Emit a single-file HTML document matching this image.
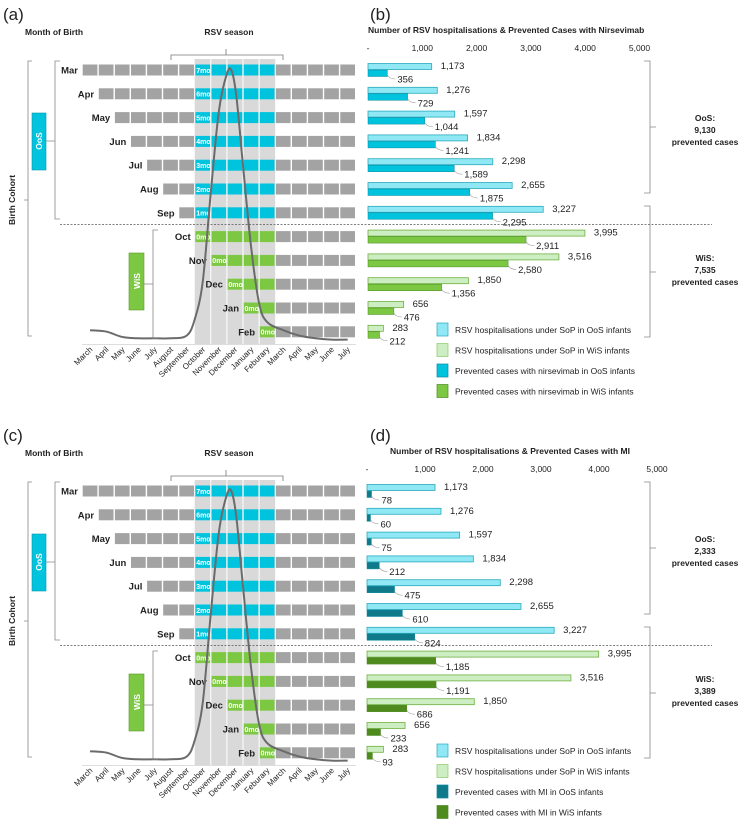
<!DOCTYPE html>
<html><head><meta charset="utf-8"><style>
body{margin:0;background:#fff;width:746px;height:825px;overflow:hidden}
svg{display:block;font-family:"Liberation Sans",Arial,sans-serif}
</style></head><body>
<svg id="fig" width="746" height="825" viewBox="0 0 746 825" xmlns="http://www.w3.org/2000/svg"></svg>
<script>
const birthMonths = ["Mar","Apr","May","Jun","Jul","Aug","Sep","Oct","Nov","Dec","Jan","Feb"];
const axisMonths = ["March","April","May","June","July","August","September","October","November","December","January","Feburary","March","April","May","June","July"];
const sopCases = [1173,1276,1597,1834,2298,2655,3227,3995,3516,1850,656,283];
const nirsPrevented = [356,729,1044,1241,1589,1875,2295,2911,2580,1356,476,212];
const miPrevented = [78,60,75,212,475,610,824,1185,1191,686,233,93];
const ageLabels = ["7mo","6mo","5mo","4mo","3mo","2mo","1mo","0mo","0mo","0mo","0mo","0mo"];
const tickValues = [0,1000,2000,3000,4000,5000];
const tickLabels = ["-","1,000","2,000","3,000","4,000","5,000"];
const curvePos = [0.5,1.5,2.5,3.5,4.5,5.5,6.5,7.0,7.5,8.0,8.5,9.0,9.3,9.6,10.0,10.5,11.0,11.5,12.5,13.5,14.5,15.5,16.5];
const curveVal = [4,3.5,1.5,1,1,1,2,8,22,55,85,99,100,90,65,35,14,7,4,2,1,0.5,0.5];

const NS="http://www.w3.org/2000/svg";
const svg=document.getElementById('fig');
function mk(tag,attrs,parent){const e=document.createElementNS(NS,tag);for(const k in attrs)e.setAttribute(k,attrs[k]);(parent||svg).appendChild(e);return e;}
function txt(s,attrs,parent){const e=mk('text',attrs,parent);e.textContent=s;return e;}

const CX0=82, CW=16.1, ROW0=70, RS=23.8;
const cx=i=>CX0+CW*i;
const rowY=r=>ROW0+RS*r;

function panel(oy, letters, darkVals, darkOoS, darkWiS, scale, titleText, legTexts, oosTotal, wisTotal, titleX, x0){
  const g=mk('g',{});
  
  
  const gL=mk('g',{transform:`translate(0,${oy})`},g);
  let t=txt('('+letters[0]+')',{x:3,y:20,'font-size':17,fill:'#222'},gL);
  
  
  t=txt('Month of Birth',{x:25,y:35,'font-size':8.5,'font-weight':'bold',fill:'#222'},gL);
  
  
  t=txt('RSV season',{x:229,y:35,'font-size':8.5,'font-weight':'bold','text-anchor':'middle',fill:'#222'},gL);
  
  
  mk('path',{d:'M171,60 V55 H226 V49 M226,55 H283 V60',fill:'none',stroke:'#777','stroke-width':0.8},gL);
  const bg=mk('rect',{x:cx(7),y:59,width:CW*5,height:285,fill:'#d9d9d9'},gL);
  
  
  for(let k=1;k<5;k++) mk('line',{x1:cx(7+k),x2:cx(7+k),y1:59,y2:344,stroke:'#fff','stroke-width':1},gL);
  birthMonths.forEach((m,r)=>{
    const y=rowY(r)-5.5;
    const start=r;
    for(let c=start;c<17;c++){
      const inSeason=c>=7&&c<=11;
      let fill='#a3a3a3';
      if(inSeason) fill = r<7 ? '#00c3de' : '#7dc843';
      const cell=mk('rect',{x:cx(c)+0.7,y:y,width:CW-1.4,height:11,fill:fill},gL);
      
      
    }
    const lab=txt(m,{x:cx(start)-4,y:rowY(r)+3.5,'font-size':9.5,'font-weight':'bold','text-anchor':'end',fill:'#222'},gL);
    
    
    const ac=Math.max(7,start);
    const al=txt(ageLabels[r],{x:cx(ac)+1.5,y:rowY(r)+2.8,'font-size':7,'font-weight':'bold',fill:'#fff'},gL);
    
    
  });
  mk('line',{x1:82,x2:356,y1:344.5,y2:344.5,stroke:'#ddd','stroke-width':1},gL);
  axisMonths.forEach((m,i)=>{
    const x=cx(i)+CW/2+3, y=350;
    const a=txt(m,{x:x,y:y,'font-size':8,'text-anchor':'end',fill:'#222',transform:`rotate(-45 ${x} ${y})`},gL);
    
    
  });
  const pts=curvePos.map((p,i)=>[cx(p),341-curveVal[i]*2.7]);
  let d='M'+pts[0][0]+','+pts[0][1];
  for(let i=1;i<pts.length;i++){
    const p0=pts[Math.max(0,i-2)],p1=pts[i-1],p2=pts[i],p3=pts[Math.min(pts.length-1,i+1)];
    const c1=[p1[0]+(p2[0]-p0[0])/6,p1[1]+(p2[1]-p0[1])/6],c2=[p2[0]-(p3[0]-p1[0])/6,p2[1]-(p3[1]-p1[1])/6];
    d+=` C${c1[0]},${c1[1]} ${c2[0]},${c2[1]} ${p2[0]},${p2[1]}`;
  }
  const cur=mk('path',{d:d,fill:'none',stroke:'#6b6b6b','stroke-width':2},gL);
  
  
  t=txt('Birth Cohort',{x:15,y:200,'font-size':8.5,'font-weight':'bold','text-anchor':'middle',fill:'#222',transform:'rotate(-90 15 200)'},gL);
  
  
  mk('path',{d:'M32,61 H28 V336 H32 M28,200 H24',fill:'none',stroke:'#888','stroke-width':0.8},gL);
  mk('path',{d:'M60,61 H55 V219 H60 M55,141 H46',fill:'none',stroke:'#888','stroke-width':0.8},gL);
  mk('path',{d:'M158,230 H153 V338 H158 M153,284 H144',fill:'none',stroke:'#888','stroke-width':0.8},gL);
  let b=mk('rect',{x:32,y:113,width:14,height:57,fill:'#00c3de',stroke:'#0a9ab0','stroke-width':0.6},gL);
  
  
  txt('OoS',{x:42,y:141,'font-size':8.5,'font-weight':'bold','text-anchor':'middle',fill:'#fff',transform:'rotate(-90 42 141)'},gL);
  b=mk('rect',{x:129,y:253,width:15,height:57,fill:'#7dc843',stroke:'#5a9a2a','stroke-width':0.6},gL);
  
  
  txt('WiS',{x:140,y:281,'font-size':8.5,'font-weight':'bold','text-anchor':'middle',fill:'#fff',transform:'rotate(-90 140 281)'},gL);
  mk('line',{x1:60,x2:712,y1:224.5,y2:224.5,stroke:'#555','stroke-width':0.8,'stroke-dasharray':'2,1.5'},gL);

  t=txt('('+letters[1]+')',{x:370,y:20,'font-size':17,fill:'#222'},gL);
  
  
  t=txt(titleText,{x:titleX,y:33,'font-size':8.5,'font-weight':'bold',fill:'#222'},gL);
  
  
  const X0=x0;
  tickValues.forEach((v,i)=>{
    const tk=txt(tickLabels[i],{x:X0+v*scale,y:51,'font-size':8.5,'text-anchor':'middle',fill:'#222'},gL);
    
    
  });
  birthMonths.forEach((m,r)=>{
    const yc=rowY(r), oos=r<7;
    const w1=sopCases[r]*scale, w2=darkVals[r]*scale;
    let br=mk('rect',{x:X0,y:yc-6.5,width:w1,height:6,fill:oos?'#8fe8f4':'#cdeec2',stroke:oos?'#2aaabf':'#6fb040','stroke-width':0.8},gL);
    
    
    br=mk('rect',{x:X0,y:yc,width:w2,height:6.5,fill:oos?darkOoS:darkWiS,stroke:oos?'#0a8aa0':'#4c8a22','stroke-width':0.5},gL);
    
    
    const l1=txt(sopCases[r].toLocaleString('en-US'),{x:X0+w1+9,y:yc-1,'font-size':9.5,fill:'#222'},gL);
    
    
    const ex=X0+w2;
    mk('path',{d:`M${ex},${yc+5} Q${ex+2},${yc+9} ${ex+8},${yc+9}`,fill:'none',stroke:'#999','stroke-width':0.6},gL);
    const l2=txt(darkVals[r].toLocaleString('en-US'),{x:ex+10,y:yc+12.5,'font-size':9.5,fill:'#222'},gL);
    
    
  });
  mk('path',{d:'M644,61 H650 V193 H644 M650,127 H656',fill:'none',stroke:'#888','stroke-width':0.8},gL);
  mk('path',{d:'M644,206 H650 V337 H644 M650,272 H656',fill:'none',stroke:'#888','stroke-width':0.8},gL);
  [['OoS:',121],[oosTotal,133],['prevented cases',145]].forEach(([s,y])=>{
    const e=txt(s,{x:705,y:y,'font-size':8.5,'font-weight':'bold','text-anchor':'middle',fill:'#222'},gL);
    
    
  });
  [['WiS:',261],[wisTotal,273],['prevented cases',285]].forEach(([s,y])=>{
    const e=txt(s,{x:705,y:y,'font-size':8.5,'font-weight':'bold','text-anchor':'middle',fill:'#222'},gL);
    
    
  });
  const lf=[['#8fe8f4','#2aaabf'],['#cdeec2','#8cc86a'],[darkOoS,'#0a8aa0'],[darkWiS,'#4c8a22']];
  legTexts.forEach((s,i)=>{
    const y=323+i*20.5;
    const r=mk('rect',{x:437,y:y,width:11,height:13,fill:lf[i][0],stroke:lf[i][1],'stroke-width':0.7},gL);
    
    
    const e=txt(s,{x:455,y:y+10,'font-size':8.5,fill:'#222'},gL);
    
    
  });
}
panel(0,['a','b'],nirsPrevented,'#00c3de','#7dc843',0.0543,'Number of RSV hospitalisations & Prevented Cases with Nirsevimab',
 ['RSV hospitalisations under SoP in OoS infants','RSV hospitalisations under SoP in WiS infants','Prevented cases with nirsevimab in OoS infants','Prevented cases with nirsevimab in WiS infants'],'9,130','7,535',368,368);
panel(421,['c','d'],miPrevented,'#0e7a8a','#4f8a1e',0.058,'Number of RSV hospitalisations & Prevented Cases with MI',
 ['RSV hospitalisations under SoP in OoS infants','RSV hospitalisations under SoP in WiS infants','Prevented cases with MI in OoS infants','Prevented cases with MI in WiS infants'],'2,333','3,389',390,367);
</script>
</body></html>
